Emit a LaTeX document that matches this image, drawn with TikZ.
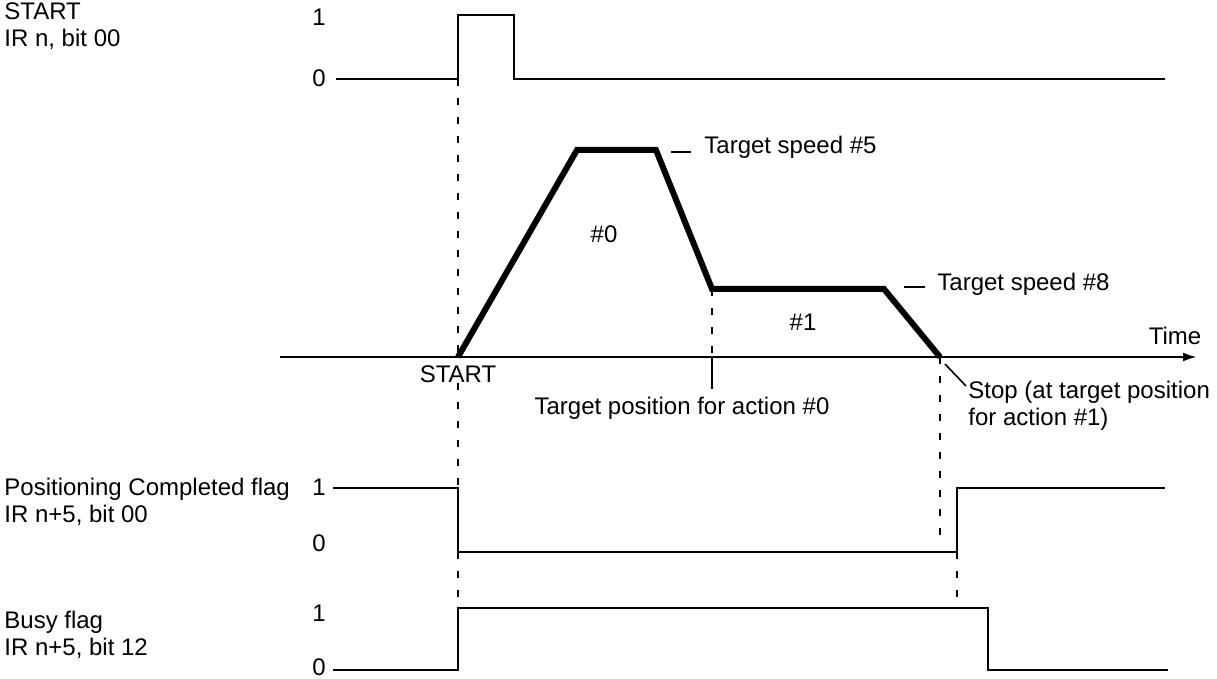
\documentclass[tikz,border=0pt]{standalone}
\usepackage{fontspec}
\setmainfont{Liberation Sans}
\usetikzlibrary{arrows.meta}
\begin{document}
\begin{tikzpicture}[x=0.5pt,y=-0.5pt,
    font=\fontsize{12}{13.5}\selectfont,
    sig/.style={line width=1.2pt},
    spd/.style={line width=3pt, line join=miter},
    guide/.style={line width=1pt, dash pattern=on 3.5pt off 6pt},
    lbl/.style={inner sep=0pt, align=left, anchor=west},
    lvl/.style={inner sep=0pt}]
    \useasboundingbox (0,0) rectangle (1217,679);
    % signal names
    \node[lbl] (startname) at (4,26) {START\\IR n, bit 00};
    \node[lbl] (pcname) at (4,502) {Positioning Completed flag\\IR n+5, bit 00};
    \node[lbl] (busyname) at (4,635) {Busy flag\\IR n+5, bit 12};
    % levels
    \node[lvl] (start1) at (319,17) {1};
    \node[lvl] (start0) at (319,78) {0};
    \node[lvl] (pc1) at (319,487) {1};
    \node[lvl] (pc0) at (319,543) {0};
    \node[lvl] (busy1) at (319,613) {1};
    \node[lvl] (busy0) at (319,667) {0};
    % waveforms
    \draw[sig] (336,79) -- (458,79) -- (458,15) -- (514,15) -- (514,79) -- (1165,79);
    \draw[sig] (333,488) -- (458,488) -- (458,552) -- (957,552) -- (957,488) -- (1165,488);
    \draw[sig] (333,670) -- (458,670) -- (458,608) -- (988,608) -- (988,670) -- (1168,670);
    % speed profile
    \draw[sig, -{Latex[length=7pt,width=4.5pt]}] (280,357) -- (1197,357);
    \node[lvl] (time) at (1175,336) {Time};
    \draw[spd] (458,357) -- (577,150) -- (656,150) -- (712,289) -- (884,289) -- (940,357);
    \node[lvl] (act0) at (604,234) {\#0};
    \node[lvl] (act1) at (803,322) {\#1};
    \node[lbl] (speed5) at (704,147) {Target speed \#5};
    \draw[sig] (671,152) -- (691,152);
    \node[lbl] (speed8) at (937,284) {Target speed \#8};
    \draw[sig] (904,287) -- (925,287);
    \node[lvl] (startmark) at (458,374) {START};
    \node[lvl] (tpos) at (682,408) {Target position for action \#0};
    \draw[sig] (712,357) -- (712,389);
    \node[lbl, anchor=north west] (stop) at (968,381) {Stop (at target position\\for action \#1)};
    \draw[line width=0.8pt] (945,364) -- (966,386);
    % guides
    \draw[guide] (458,79) -- (458,357);
    \draw[guide] (startmark.south) -- (458,488);
    \draw[guide] (458,552) -- (458,608);
    \draw[guide] (712,289) -- (712,357);
    \draw[guide] (940,357) -- (940,545);
    \draw[guide] (957,552) -- (957,603);
\end{tikzpicture}
\end{document}
